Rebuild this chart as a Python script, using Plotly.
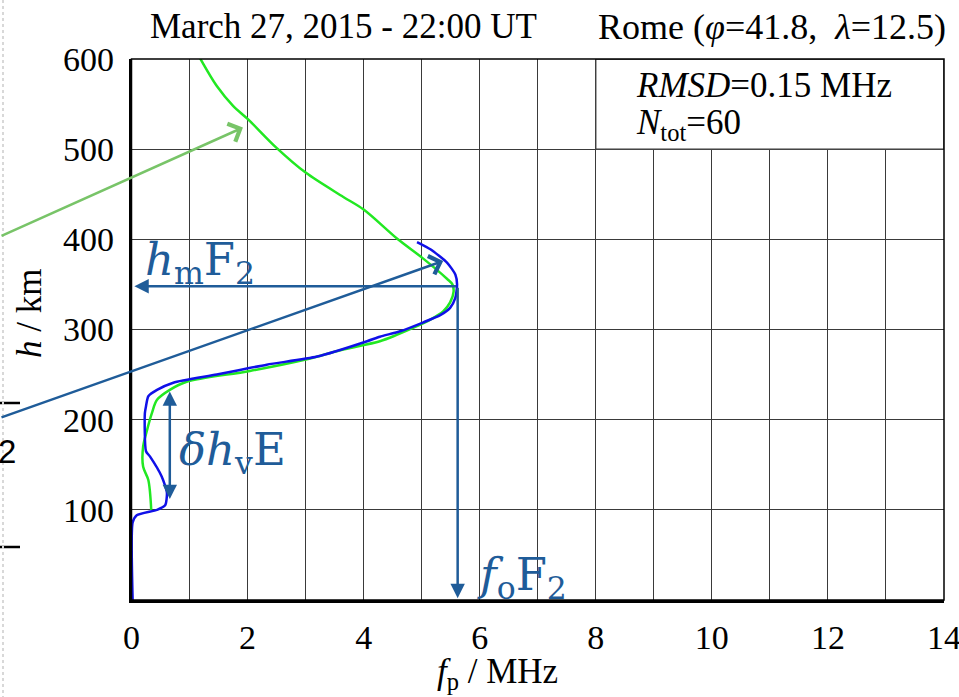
import plotly.graph_objects as go

# ---------------- data ----------------
MODEL_F = [1.18, 1.47, 1.75, 2.01, 2.49, 3.00, 3.65, 4.00, 4.59, 5.00, 5.44, 5.53, 5.55, 5.49, 5.37,
           5.15, 4.86, 4.57, 4.28, 3.60, 3.02, 2.04, 0.95, 0.66, 0.44, 0.35, 0.27, 0.20, 0.20, 0.29, 0.34]
MODEL_H = [601, 570, 548, 533, 502, 474, 447, 433, 400, 380, 356, 350, 342, 330, 320,
           311, 302, 294, 287, 277, 267, 254, 242, 233, 222, 207, 189, 170, 148, 133, 100]

MEAS_F = [4.92, 5.15, 5.44, 5.58, 5.61, 5.58, 5.49, 5.32, 5.03, 4.63, 4.28, 4.06, 3.20, 2.33, 1.47,
          0.72, 0.44, 0.29, 0.25, 0.23, 0.25, 0.32, 0.52, 0.61, 0.58, 0.44, 0.09, 0.02, 0.02]
MEAS_H = [397, 389, 374, 361, 350, 335, 324, 316, 308, 298, 292, 287, 270, 261, 250,
          241, 233, 226, 215, 207, 165, 159, 137, 119, 105, 100, 94, 86, 0]

FOF2 = 5.62      # MHz
HMF2 = 348       # km
EVAL_F = 0.66    # position of the valley-width arrow
EVAL_TOP = 233
EVAL_BOT = 112

X_TICKS = [0, 2, 4, 6, 8, 10, 12, 14]
Y_TICKS = [100, 200, 300, 400, 500, 600]

TITLE_LEFT = "March 27, 2015 - 22:00 UT"
TITLE_RIGHT = "Rome (<i>φ</i>=41.8,  <i>λ</i>=12.5)"
STATS = ["<i>RMSD</i>=0.15 MHz", "<i>N</i><sub>tot</sub>=60"]
X_TITLE = "<i>f</i><sub>p</sub> / MHz"
Y_TITLE = "<i>h</i> / km"

# ---------------- styles / layout geometry ----------------
W, H = 959, 697
PLOT_L, PLOT_R, PLOT_T, PLOT_B = 131.5, 944, 59, 600   # plot area in page pixels

SERIF = "Liberation Serif"
MATH = "DejaVu Serif"
ARROW_BLUE = "#1F5C99"
GREEN = "#22E822"
BLUE = "#1010E8"
LIGHT_GREEN = "#78C468"
GRID = "#3a3a3a"

# decorations at the far-left page edge (page-pixel overlay)
DASH_Y = [403, 547]
DASH_X = [0, 20]
EDGE_X = 3


def px_x(p):
    return p / W


def px_y(p):
    return 1 - p / H


fig = go.Figure()
fig.add_trace(go.Scatter(x=MODEL_F, y=MODEL_H, mode="lines",
                         line=dict(color=GREEN, width=2.5, shape="spline", smoothing=0.9),
                         hoverinfo="skip", showlegend=False))
fig.add_trace(go.Scatter(x=MEAS_F, y=MEAS_H, mode="lines",
                         line=dict(color=BLUE, width=2.5, shape="spline", smoothing=0.6),
                         hoverinfo="skip", showlegend=False))

# overlay subplot covering the whole page, in page pixels
dx, dy = [], []
for yy in DASH_Y:
    dx += [DASH_X[0], DASH_X[1], None]
    dy += [yy, yy, None]
fig.add_trace(go.Scatter(x=dx, y=dy, xaxis="x2", yaxis="y2", mode="lines",
                         line=dict(color="black", width=2.5), hoverinfo="skip", showlegend=False))
fig.add_trace(go.Scatter(x=[EDGE_X, EDGE_X], y=[0, H], xaxis="x2", yaxis="y2", mode="lines",
                         line=dict(color="#d8d8d8", width=2, dash="dot"), hoverinfo="skip",
                         showlegend=False))

# white stats box (covers grid in the upper right)
fig.add_shape(type="rect", xref="x", yref="y", x0=8, x1=14, y0=500, y1=600,
              fillcolor="white", line=dict(color=GRID, width=1.3), layer="between")

# frame (thin top/right)
fig.add_shape(type="rect", xref="x domain", yref="y domain", x0=0, x1=1, y0=0, y1=1,
              line=dict(color="black", width=1.5), layer="above")

ann = []
# hmF2 arrow (pointing left)
ann.append(dict(x=0.05, y=HMF2, xref="x", yref="y", ax=FOF2, ay=HMF2, axref="x", ayref="y",
                text="", showarrow=True, arrowhead=2, arrowsize=1.15, arrowwidth=2.5,
                arrowcolor=ARROW_BLUE))
# foF2 arrow (pointing down)
ann.append(dict(x=FOF2, y=2, xref="x", yref="y", ax=FOF2, ay=HMF2, axref="x", ayref="y",
                text="", showarrow=True, arrowhead=2, arrowsize=1.15, arrowwidth=2.5,
                arrowcolor=ARROW_BLUE))
# delta h_v E double arrow
ann.append(dict(x=EVAL_F, y=EVAL_BOT, xref="x", yref="y", ax=EVAL_F, ay=EVAL_TOP, axref="x", ayref="y",
                text="", showarrow=True, arrowhead=2, startarrowhead=2, arrowside="end+start",
                arrowsize=1.15, startarrowsize=1.15, arrowwidth=2.5, arrowcolor=ARROW_BLUE))
# long pointer lines coming from outside the chart (open heads)
ann.append(dict(x=1.92, y=524, xref="x", yref="y", ax=-245, ay=109,
                text="", showarrow=True, arrowhead=4, arrowsize=1.5, arrowwidth=2.5,
                arrowcolor=LIGHT_GREEN))
ann.append(dict(x=5.37, y=376, xref="x", yref="y", ax=-445, ay=157,
                text="", showarrow=True, arrowhead=4, arrowsize=1.5, arrowwidth=2.5,
                arrowcolor=ARROW_BLUE))

# math labels
ann.append(dict(x=px_x(143), y=px_y(262), xref="paper", yref="paper", xanchor="left", yanchor="middle",
                text="<i>h</i><sub>m</sub>F<sub>2</sub>", showarrow=False,
                font=dict(family=MATH, size=45, color=ARROW_BLUE)))
ann.append(dict(x=px_x(177), y=px_y(452), xref="paper", yref="paper", xanchor="left", yanchor="middle",
                text="<i>δh</i><sub>v</sub>E", showarrow=False,
                font=dict(family=MATH, size=45, color=ARROW_BLUE)))
ann.append(dict(x=px_x(475), y=px_y(577), xref="paper", yref="paper", xanchor="left", yanchor="middle",
                text="<i>f</i><sub>o</sub>F<sub>2</sub>", showarrow=False,
                font=dict(family=MATH, size=45, color=ARROW_BLUE)))

# stats text
ann.append(dict(x=px_x(634), y=px_y(85), xref="paper", yref="paper", xanchor="left", yanchor="middle",
                text=STATS[0], showarrow=False, font=dict(family=SERIF, size=35, color="black")))
ann.append(dict(x=px_x(634), y=px_y(125), xref="paper", yref="paper", xanchor="left", yanchor="middle",
                text=STATS[1], showarrow=False, font=dict(family=SERIF, size=35, color="black")))

# titles
ann.append(dict(x=px_x(343), y=px_y(27), xref="paper", yref="paper", showarrow=False, xanchor="center",
                yanchor="middle", text=TITLE_LEFT, font=dict(family=SERIF, size=35, color="black")))
ann.append(dict(x=px_x(948), y=px_y(27), xref="paper", yref="paper", showarrow=False, xanchor="right",
                yanchor="middle", text=TITLE_RIGHT, font=dict(family=SERIF, size=36, color="black")))
# axis titles
ann.append(dict(x=px_x(30), y=px_y(314), xref="paper", yref="paper", showarrow=False, xanchor="center",
                yanchor="middle", text=Y_TITLE, textangle=-90,
                font=dict(family=SERIF, size=35, color="black")))
ann.append(dict(x=px_x(497), y=px_y(673), xref="paper", yref="paper", showarrow=False, xanchor="center",
                yanchor="middle", text=X_TITLE, font=dict(family=SERIF, size=35, color="black")))
# fragment of a neighbouring slide element
ann.append(dict(x=px_x(-4), y=px_y(451), xref="paper", yref="paper", showarrow=False, xanchor="left",
                yanchor="middle", text="2", font=dict(family="Liberation Sans", size=33, color="black")))

fig.update_layout(
    annotations=ann,
    xaxis=dict(range=[0, 14], tickvals=X_TICKS, ticktext=[str(v) for v in X_TICKS],
               domain=[PLOT_L / W, PLOT_R / W], automargin=False, anchor="y",
               showgrid=True, gridcolor=GRID, gridwidth=1.3,
               minor=dict(dtick=1, showgrid=True, gridcolor=GRID, gridwidth=1.3),
               showline=True, linecolor="black", linewidth=2.5, zeroline=False,
               ticks="outside", ticklen=5, tickcolor="rgba(0,0,0,0)", ticklabeloverflow="allow",
               tickfont=dict(family=SERIF, size=34, color="black"), fixedrange=True),
    yaxis=dict(range=[0, 600], tickvals=Y_TICKS, ticktext=[str(v) for v in Y_TICKS],
               domain=[1 - PLOT_B / H, 1 - PLOT_T / H], automargin=False, anchor="x",
               showgrid=True, gridcolor=GRID, gridwidth=1.3,
               showline=True, linecolor="black", linewidth=2.5, zeroline=False,
               ticks="outside", ticklen=8, tickcolor="rgba(0,0,0,0)", ticklabeloverflow="allow",
               tickfont=dict(family=SERIF, size=34, color="black"), fixedrange=True),
    xaxis2=dict(domain=[0, 1], range=[0, W], visible=False, anchor="y2", fixedrange=True,
                automargin=False),
    yaxis2=dict(domain=[0, 1], range=[H, 0], visible=False, anchor="x2", fixedrange=True,
                automargin=False),
    width=W, height=H, autosize=False,
    margin=dict(l=0, r=0, t=0, b=0, pad=0, autoexpand=False),
    plot_bgcolor="rgba(0,0,0,0)", paper_bgcolor="white", showlegend=False,
)

fig.write_html("out.html")
